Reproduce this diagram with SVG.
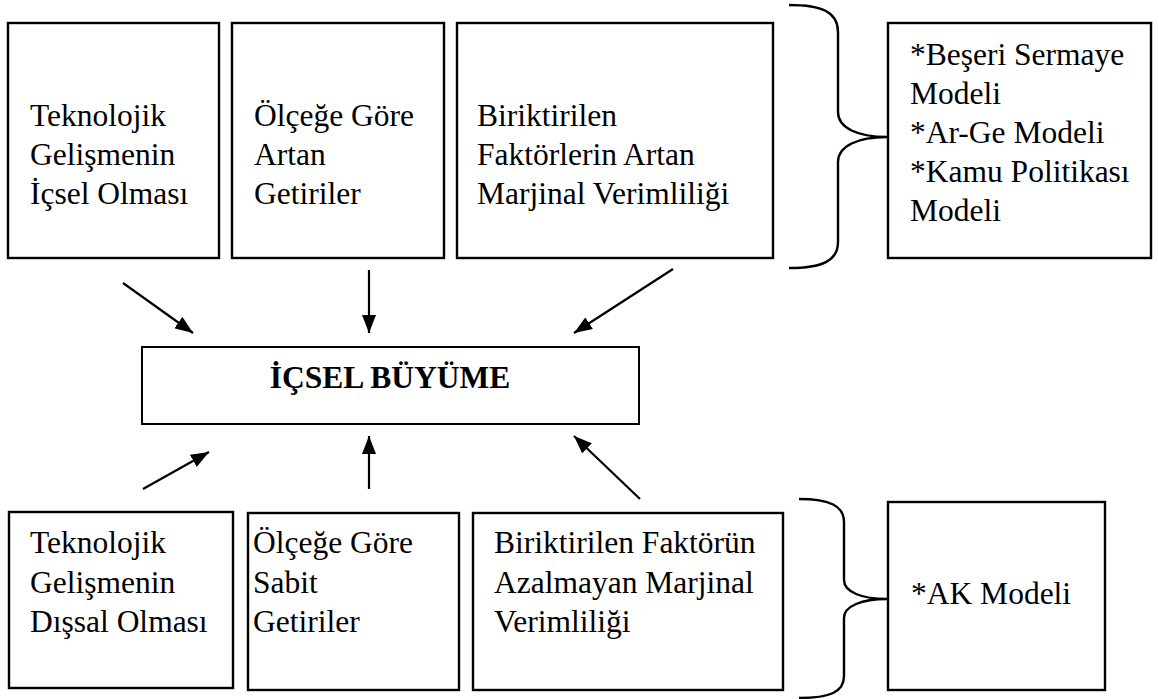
<svg xmlns="http://www.w3.org/2000/svg" width="1159" height="699" viewBox="0 0 1159 699">
<style>
.box{fill:#fff;stroke:#000;stroke-width:2.4}
.t{font-family:"Liberation Serif","Times New Roman",serif;font-size:31.5px;fill:#000}
.b{font-weight:bold}
.conn line{stroke:#000;stroke-width:2.2}
.brace{fill:none;stroke:#000;stroke-width:2.4}
</style>
<defs>
<marker id="ah" viewBox="0 0 18 14" refX="18" refY="7" markerWidth="18" markerHeight="14" markerUnits="userSpaceOnUse" orient="auto">
<path d="M0,0 L18,7 L0,14 Z" fill="#000"/>
</marker>
</defs>
<rect width="1159" height="699" fill="#fff"/>

<g id="n-top1">
<rect class="box" x="8" y="23" width="211" height="235"/>
<text class="t"><tspan x="30" y="126">Teknolojik</tspan><tspan x="30" y="165">Gelişmenin</tspan><tspan x="30" y="204">İçsel Olması</tspan></text>
</g>
<g id="n-top2">
<rect class="box" x="232" y="23" width="212" height="235"/>
<text class="t"><tspan x="254" y="126">Ölçeğe Göre</tspan><tspan x="254" y="165">Artan</tspan><tspan x="254" y="204">Getiriler</tspan></text>
</g>
<g id="n-top3">
<rect class="box" x="457" y="23" width="316" height="235"/>
<text class="t"><tspan x="477" y="126">Biriktirilen</tspan><tspan x="477" y="165">Faktörlerin Artan</tspan><tspan x="477" y="204">Marjinal Verimliliği</tspan></text>
</g>
<g id="n-top4">
<rect class="box" x="888" y="23" width="263" height="235"/>
<text class="t"><tspan x="910" y="65">*Beşeri Sermaye</tspan><tspan x="910" y="104">Modeli</tspan><tspan x="910" y="143">*Ar-Ge Modeli</tspan><tspan x="910" y="182">*Kamu Politikası</tspan><tspan x="910" y="221">Modeli</tspan></text>
</g>
<g id="brace-top">
<path class="brace" d="M789,5 C822,5 838,12 838,32 L838,112 C838,128 858,137 887,137 C858,137 838,146 838,162 L838,242 C838,261 822,268 789,268"/>
</g>

<g id="n-center">
<rect class="box" x="142" y="347" width="497" height="77" style="stroke-width:2"/>
<text class="t b" text-anchor="middle"><tspan x="390" y="388">İÇSEL BÜYÜME</tspan></text>
</g>

<g id="n-bot1">
<rect class="box" x="9" y="512" width="224" height="176"/>
<text class="t"><tspan x="30" y="553">Teknolojik</tspan><tspan x="30" y="593">Gelişmenin</tspan><tspan x="30" y="632">Dışsal Olması</tspan></text>
</g>
<g id="n-bot2">
<rect class="box" x="248" y="513" width="211" height="177"/>
<text class="t"><tspan x="253" y="553">Ölçeğe Göre</tspan><tspan x="253" y="593">Sabit</tspan><tspan x="253" y="632">Getiriler</tspan></text>
</g>
<g id="n-bot3">
<rect class="box" x="473" y="513" width="310" height="177"/>
<text class="t"><tspan x="494" y="553">Biriktirilen Faktörün</tspan><tspan x="494" y="593">Azalmayan Marjinal</tspan><tspan x="494" y="632">Verimliliği</tspan></text>
</g>
<g id="n-bot4">
<rect class="box" x="888" y="502" width="217" height="188"/>
<text class="t"><tspan x="911" y="604">*AK Modeli</tspan></text>
</g>
<g id="brace-bot">
<path class="brace" d="M799,499 C830,499 844,506 844,522 L844,580 C844,592 862,599 887,599 C862,599 844,606 844,618 L844,676 C844,692 830,698 799,698"/>
</g>

<g id="connectors" class="conn">
<line x1="123" y1="283" x2="193" y2="333" marker-end="url(#ah)"/>
<line x1="369" y1="270" x2="369" y2="333" marker-end="url(#ah)"/>
<line x1="673" y1="269" x2="574" y2="333" marker-end="url(#ah)"/>
<line x1="143" y1="489" x2="209" y2="452" marker-end="url(#ah)"/>
<line x1="369" y1="489" x2="369" y2="436" marker-end="url(#ah)"/>
<line x1="640" y1="499" x2="574" y2="436" marker-end="url(#ah)"/>
</g>
</svg>
